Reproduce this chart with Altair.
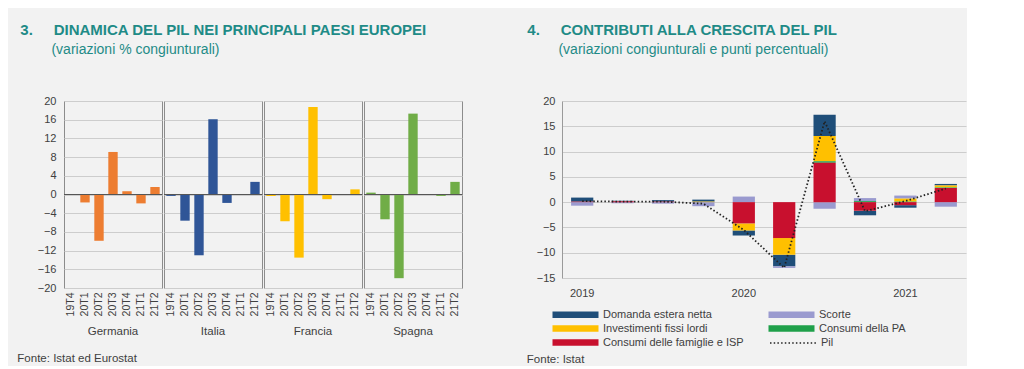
import altair as alt
import pandas as pd

FONT = "Liberation Sans, Arial, Helvetica, sans-serif"
TEAL = "#1f8b87"
TXT = "#404040"
GRID = "#cdcdcd"
NB = "\u00a0"
ZW = "\u200b"

# ---------------- left chart data ----------------
countries = ["Germania", "Italia", "Francia", "Spagna"]
quarters = ["19T4", "20T1", "20T2", "20T3", "20T4", "21T1", "21T2"]
germania = [0.1, -1.7, -9.9, 9.1, 0.7, -1.9, 1.6]
italia = [-0.3, -5.6, -13.0, 16.1, -1.8, 0.1, 2.7]
francia = [-0.3, -5.7, -13.5, 18.7, -1.0, 0.0, 1.1]
spagna = [0.4, -5.3, -17.9, 17.3, 0.0, -0.3, 2.7]
country_colors = ["#ED7D31", "#2F5597", "#FFC000", "#70AD47"]

# ---------------- right chart data ----------------
periods = ["2019T1", "2019T2", "2019T3", "2019T4", "2020T1", "2020T2",
           "2020T3", "2020T4", "2021T1", "2021T2"]
domanda_estera = [0.8, 0.1, 0.3, 0.4, -1.0, -2.3, 4.2, -0.9, -0.5, 0.3]
scorte = [-0.7, -0.2, -0.3, -0.8, 1.1, -0.3, -1.3, 0.6, 0.6, -0.9]
investimenti = [0.0, 0.0, 0.0, 0.1, -1.4, -3.3, 5.0, 0.0, 0.6, 0.4]
consumi_pa = [0.0, 0.0, 0.0, 0.0, 0.0, 0.0, 0.3, 0.2, 0.1, 0.1]
consumi_famiglie = [0.1, 0.2, 0.1, 0.0, -4.2, -7.1, 7.8, -1.7, -0.6, 2.8]
pil = [0.2, 0.1, 0.1, -0.3, -5.5, -13.0, 16.0, -1.8, 0.2, 2.7]

# legend order (column-major: first column, then second column)
series_names = ["Domanda estera netta", "Investimenti fissi lordi",
                "Consumi delle famiglie e ISP", "Scorte", "Consumi della PA"]
series_colors = ["#1F4E79", "#FFC000", "#C8102E", "#9A9ACF", "#1FA04A"]
# stacking order from zero outward
stack_order = {"Consumi delle famiglie e ISP": 1, "Consumi della PA": 2,
               "Investimenti fissi lordi": 3, "Domanda estera netta": 4, "Scorte": 5}

left_rows = []
for c, vals in zip(countries, [germania, italia, francia, spagna]):
    for q, v in zip(quarters, vals):
        left_rows.append({"country": c, "quarter": q, "value": v})
left_df = pd.DataFrame(left_rows)

comp = {"Domanda estera netta": domanda_estera, "Scorte": scorte,
        "Investimenti fissi lordi": investimenti, "Consumi della PA": consumi_pa,
        "Consumi delle famiglie e ISP": consumi_famiglie}
right_rows = []
for name, vals in comp.items():
    for p, v in zip(periods, vals):
        right_rows.append({"period": p, "serie": name, "value": v, "ord": stack_order[name]})
right_df = pd.DataFrame(right_rows)
pil_df = pd.DataFrame({"period": periods, "value": pil, "linea": ["Pil"] * len(periods)})

# ---------------- left chart ----------------
bars_l = alt.Chart().mark_bar().encode(
    x=alt.X("quarter:N", sort=quarters,
            scale=alt.Scale(paddingInner=0.33, paddingOuter=0.165),
            axis=alt.Axis(title=None, labelAngle=-90, labelFontSize=10.5, ticks=False,
                          domain=False, labelPadding=3, labelColor=TXT)),
    y=alt.Y("value:Q", scale=alt.Scale(domain=[-20, 20]),
            axis=alt.Axis(values=list(range(-20, 21, 4)), tickCount=20, title=None,
                          ticks=False, domain=False, labelPadding=7, gridColor=GRID,
                          labelOverlap=False)),
    color=alt.Color("country:N", scale=alt.Scale(domain=countries, range=country_colors),
                    legend=None),
)
zero_l = alt.Chart().mark_rule(color="#555555", strokeWidth=1).encode(y=alt.datum(0))

left = alt.layer(bars_l, zero_l, data=left_df).properties(width=98, height=187).facet(
    column=alt.Column("country:N", sort=countries, title=None,
                      header=alt.Header(labelOrient="bottom", labelFontSize=11.5,
                                        labelColor=TXT, labelFont=FONT, labelPadding=10)),
    spacing=0,
).properties(
    title=alt.TitleParams(
        text="3." + NB * 5 + "DINAMICA DEL PIL NEI PRINCIPALI PAESI EUROPEI",
        subtitle=ZW + NB * 8 + "(variazioni % congiunturali)",
        anchor="start", font=FONT, fontSize=15, fontWeight="bold", color=TEAL,
        subtitleFont=FONT, subtitleFontSize=14, subtitleColor=TEAL,
        subtitlePadding=5, offset=38, dx=-17)
)
left_w = alt.vconcat(left).properties(
    title=alt.TitleParams(text="Fonte: Istat ed Eurostat", orient="bottom", anchor="start",
                          font=FONT, fontSize=11.5, fontWeight="normal", color=TXT,
                          offset=16, dx=-3)
)

# ---------------- right chart ----------------
RECT = "M-1,-0.65L8.2,-0.65L8.2,0.65L-1,0.65Z"
legend_r = alt.Legend(
    title=None, orient="none", legendX=-10, legendY=208, columns=2,
    columnPadding=24, rowPadding=2, labelFont=FONT, labelFontSize=11,
    labelColor=TXT, labelOffset=40, symbolSize=100,
    symbolType=RECT, symbolStrokeWidth=0, symbolOpacity=1,
)
legend_pil = alt.Legend(
    title=None, orient="none", legendX=207, legendY=236,
    labelFont=FONT, labelFontSize=11, labelColor=TXT, labelOffset=40,
    symbolSize=100, symbolType="M-1,0L8.2,0", symbolStrokeColor="#222222",
    symbolFillColor="transparent", symbolStrokeWidth=1.3,
)

color_r = alt.Color("serie:N", scale=alt.Scale(domain=series_names, range=series_colors),
                    legend=legend_r)

x_r = alt.X("period:N", sort=periods,
            scale=alt.Scale(paddingInner=0.45, paddingOuter=0.225),
            axis=alt.Axis(title=None, labelAngle=0, ticks=False, domain=False,
                          labelPadding=9, labelColor=TXT, labelFontSize=11,
                          labelOverlap=False,
                          labelExpr="indexof(datum.label, 'T1') >= 0 ? slice(datum.label, 0, 4) : ''"))
y_r = alt.Y("value:Q", stack="zero", scale=alt.Scale(domain=[-15, 20]),
            axis=alt.Axis(values=list(range(-15, 21, 5)), tickCount=20, title=None,
                          ticks=False, domain=True, domainColor="#9a9a9a", labelPadding=7,
                          gridColor=GRID, labelOverlap=False))

bars_r = alt.Chart(right_df).mark_bar(opacity=1).encode(
    x=x_r, y=y_r, color=color_r, order=alt.Order("ord:Q"))
line_r = alt.Chart(pil_df).mark_line(strokeWidth=1.8, color="#222222").encode(
    x=alt.X("period:N", sort=periods), y=alt.Y("value:Q"),
    strokeDash=alt.StrokeDash("linea:N",
                              scale=alt.Scale(domain=["Pil"], range=[[1.5, 2.2]]),
                              legend=legend_pil))

right = alt.layer(bars_r, line_r).properties(
    width=404, height=177,
    view=alt.ViewBackground(stroke="transparent"),
    title=alt.TitleParams(
        text="4." + NB * 5 + "CONTRIBUTI ALLA CRESCITA DEL PIL",
        subtitle=ZW + NB * 8 + "(variazioni congiunturali e punti percentuali)",
        anchor="start", font=FONT, fontSize=15, fontWeight="bold", color=TEAL,
        subtitleFont=FONT, subtitleFontSize=14, subtitleColor=TEAL,
        subtitlePadding=5, offset=38, dx=-9),
)
right_w = alt.vconcat(right).properties(
    title=alt.TitleParams(text="Fonte: Istat", orient="bottom", anchor="start",
                          font=FONT, fontSize=11.5, fontWeight="normal", color=TXT,
                          offset=6, dx=0)
)

chart = alt.hconcat(left_w, right_w, spacing=63).resolve_scale(
    color="independent", x="independent", y="independent", strokeDash="independent"
).resolve_legend(color="independent", strokeDash="independent").properties(
    background="#f2f2f2",
    padding={"left": 9, "top": 14, "right": 0, "bottom": 0},
).configure_view(stroke="#8c8c8c").configure_axis(
    labelFont=FONT, labelColor=TXT, labelFontSize=11
)

chart.save("out.html", embed_options={"renderer": "svg", "actions": False})
